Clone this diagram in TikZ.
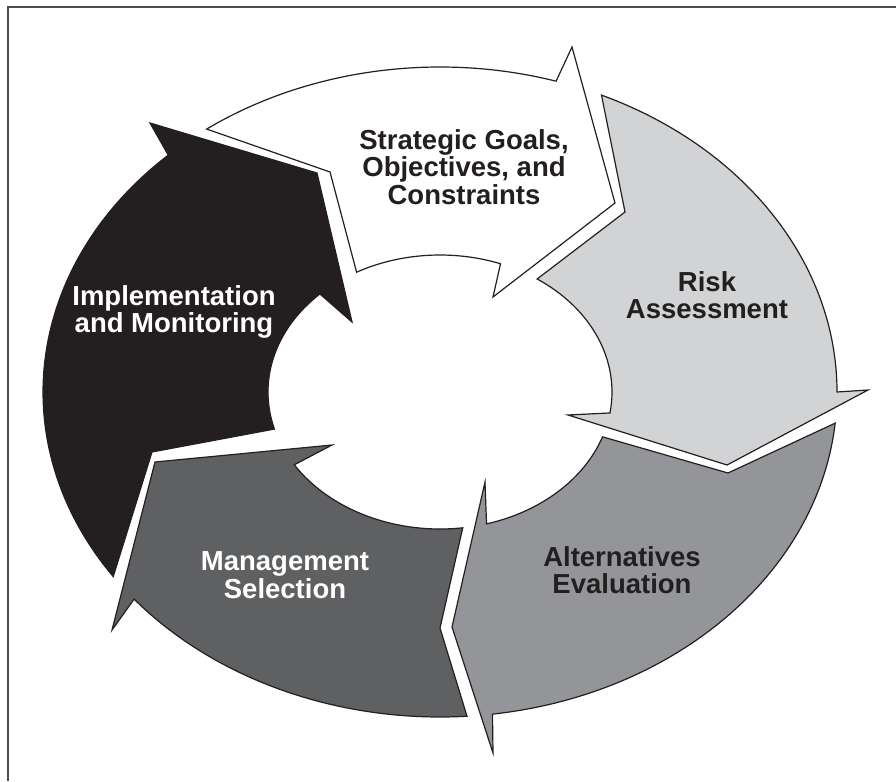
\documentclass[tikz,border=0pt]{standalone}
\usepackage{fontspec}
\setmainfont{Liberation Sans}
\definecolor{ink}{HTML}{231F20}
\definecolor{paleGrey}{HTML}{D1D3D4}
\definecolor{midGrey}{HTML}{939598}
\definecolor{darkGrey}{HTML}{5F6062}

\begin{document}
\begin{tikzpicture}[x=1pt, y=-1pt,
    segment/.style={draw=ink, line width=1.2pt, line join=miter},
    caption/.style={align=center, inner sep=0pt, font=\fontsize{27.5}{27.5}\selectfont\bfseries}]
    \useasboundingbox (0,0) rectangle (896,781);
    \draw[line width=1.8pt, draw=black!70] (896,7) -- (8,7) -- (8,781);

    \begin{scope}[shift={(440,392)}]
        \draw[segment, fill=white] (-126:397 and 325) arc[start angle=-126, end angle=-73, x radius=397, y radius=325]
            -- (132,-345) -- (175,-189) -- (53,-95) -- (-69.4:172 and 137)
            arc[start angle=-69.4, end angle=-119, x radius=172, y radius=137] -- (-110,-220) -- cycle;
        \draw[segment, fill=paleGrey] (-66:397 and 325) arc[start angle=-66, end angle=0, x radius=397, y radius=325]
            -- (428,-2) -- (287,73) -- (128,23) -- (8.8:172 and 137)
            arc[start angle=8.8, end angle=-55.6, x radius=172, y radius=137] -- (185,-180) -- cycle;
        \draw[segment, fill=midGrey] (5.5:397 and 325) arc[start angle=5.5, end angle=82.4, x radius=397, y radius=325]
            -- (53,361) -- (12,235) -- (45,90) -- (74.3:172 and 137)
            arc[start angle=74.3, end angle=19.1, x radius=172, y radius=137] -- (288,81) -- cycle;
        \draw[segment, fill=darkGrey] (86.1:397 and 325) arc[start angle=86.1, end angle=140.4, x radius=397, y radius=325]
            -- (-328,238) -- (-285,70) -- (-108,53) -- (147.9:172 and 137)
            arc[start angle=147.9, end angle=82.4, x radius=172, y radius=137] -- (0,236) -- cycle;
        \draw[segment, fill=ink] (145.4:397 and 325) arc[start angle=145.4, end angle=226.8, x radius=397, y radius=325]
            -- (-290,-269) -- (-123,-219) -- (-88,-70) -- (225.7:172 and 137)
            arc[start angle=225.7, end angle=164.3, x radius=172, y radius=137] -- (-288,60) -- cycle;
    \end{scope}

    \node[caption, text=ink] (goals) at (464,167) {Strategic Goals,\\Objectives, and\\Constraints};
    \node[caption, text=ink] (risk) at (707,295) {Risk\\Assessment};
    \node[caption, text=ink] (alternatives) at (622,570) {Alternatives\\Evaluation};
    \node[caption, text=white] (selection) at (285,575) {Management\\Selection};
    \node[caption, text=white] (monitoring) at (174,312) {Implementation\\and Monitoring};
\end{tikzpicture}
\end{document}
